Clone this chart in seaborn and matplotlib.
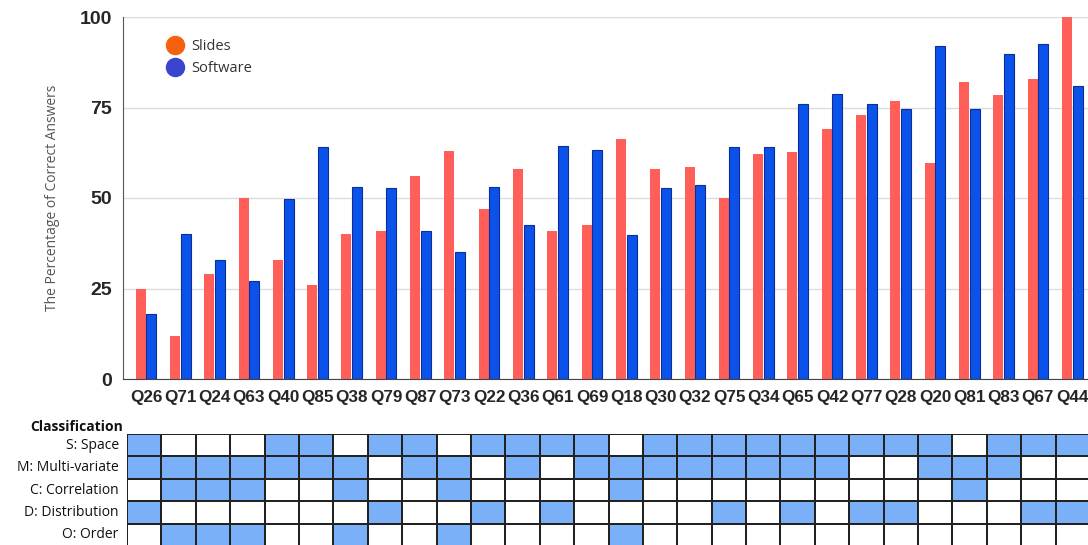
import numpy as np
import pandas as pd
import matplotlib.pyplot as plt
from matplotlib.colors import ListedColormap
from matplotlib.lines import Line2D
import seaborn as sns

questions = ['Q26', 'Q71', 'Q24', 'Q63', 'Q40', 'Q85', 'Q38', 'Q79', 'Q87', 'Q73',
             'Q22', 'Q36', 'Q61', 'Q69', 'Q18', 'Q30', 'Q32', 'Q75', 'Q34', 'Q65',
             'Q42', 'Q77', 'Q28', 'Q20', 'Q81', 'Q83', 'Q67', 'Q44']
slides = [25, 12, 29, 50, 33, 26, 40, 41, 56, 63,
          47, 58, 41, 42.6, 66.4, 58, 58.6, 50, 62.2, 62.7,
          69, 73, 76.7, 59.7, 82, 78.4, 82.8, 100]
software = [18, 40, 33, 27, 49.6, 64, 53, 52.7, 41, 35,
            53, 42.6, 64.4, 63.3, 39.7, 52.7, 53.7, 64, 64, 76,
            78.6, 76, 74.7, 92, 74.7, 89.8, 92.5, 81]

class_labels = ['S: Space', 'M: Multi-variate', 'C: Correlation', 'D: Distribution', 'O: Order']
space        = [1, 0, 0, 0, 1, 1, 0, 1, 1, 0, 1, 1, 1, 1, 0, 1, 1, 1, 1, 1, 1, 1, 1, 1, 0, 1, 1, 1]
multivariate = [1, 1, 1, 1, 1, 1, 1, 0, 1, 1, 0, 1, 0, 1, 1, 1, 1, 1, 1, 1, 1, 0, 0, 1, 1, 1, 0, 0]
correlation  = [0, 1, 1, 1, 0, 0, 1, 0, 0, 1, 0, 0, 0, 0, 1, 0, 0, 0, 0, 0, 0, 0, 0, 0, 1, 0, 0, 0]
distribution = [1, 0, 0, 0, 0, 0, 0, 1, 0, 0, 1, 0, 1, 0, 0, 0, 0, 1, 0, 1, 0, 1, 1, 0, 0, 0, 1, 1]
order        = [0, 1, 1, 1, 0, 0, 1, 0, 0, 1, 0, 0, 0, 0, 1, 0, 0, 0, 0, 0, 0, 0, 0, 0, 0, 0, 0, 0]

df = pd.DataFrame({'question': questions * 2,
                   'value': slides + software,
                   'group': ['Slides'] * len(questions) + ['Software'] * len(questions)})
table = pd.DataFrame([space, multivariate, correlation, distribution, order],
                     index=class_labels, columns=questions)

sns.set_style('white')
plt.rcParams['font.family'] = ['Open Sans', 'DejaVu Sans']
narrow = ['Liberation Sans', 'DejaVu Sans']

slide_col = '#ff5f58'
soft_col = '#0a52ea'

fig = plt.figure(figsize=(10.88, 5.45), dpi=100)
W, H = 1088, 545
ax = fig.add_axes([123 / W, 166 / H, 965 / W, 362 / H])

sns.barplot(data=df, x='question', y='value', hue='group', order=questions,
            palette={'Slides': slide_col, 'Software': soft_col}, saturation=1,
            width=0.62, gap=0.06, ax=ax, legend=False)
for bar in ax.containers[1]:
    bar.set_edgecolor('#0b2f9a')
    bar.set_linewidth(0.8)
for bar in ax.containers[0]:
    bar.set_linewidth(0)

ax.set_xlim(-0.67, 27.46)
ax.set_ylim(0, 100)
ax.set_yticks([0, 25, 50, 75, 100])
ax.yaxis.grid(True, color='#dcdcdc', linewidth=1)
ax.set_axisbelow(True)
for s in ['top', 'right']:
    ax.spines[s].set_visible(False)
ax.spines['left'].set_color('#555555')
ax.spines['bottom'].set_color('#444444')
ax.tick_params(axis='both', length=0, pad=8)
for lab in ax.get_yticklabels():
    lab.set_fontfamily(narrow)
    lab.set_fontweight('bold')
    lab.set_fontsize(14)
for lab in ax.get_xticklabels():
    lab.set_fontfamily(narrow)
    lab.set_fontweight('bold')
    lab.set_fontsize(12.3)
ax.set_xlabel('')
ax.set_ylabel('The Percentage of Correct Answers', color='#555555', fontsize=10, labelpad=14)

handles = [Line2D([], [], marker='o', linestyle='', markersize=13, color='#f5620f'),
           Line2D([], [], marker='o', linestyle='', markersize=13, color='#3b44cf')]
ax.legend(handles, ['Slides', 'Software'], loc='upper left', bbox_to_anchor=(0.025, 0.975),
          frameon=False, fontsize=10.5, handletextpad=0.1, labelspacing=0.45,
          labelcolor='#333333')

tax = fig.add_axes([127 / W, -1 / H, 963 / W, 112 / H])
sns.heatmap(table, cmap=ListedColormap(['white', '#7ab0f8']), vmin=0, vmax=1,
            cbar=False, linewidths=1.2, linecolor='#222222', ax=tax)
tax.set_xticks([])
tax.set_xlabel('')
tax.tick_params(axis='y', length=0, pad=6)
tax.set_yticklabels(class_labels, rotation=0, fontsize=10, color='#111111')
fig.text(123 / W, 1 - 427 / H, 'Classification', ha='right', va='center',
         fontsize=10, fontweight='bold', color='#111111')

fig.savefig('out.png', dpi=100)
